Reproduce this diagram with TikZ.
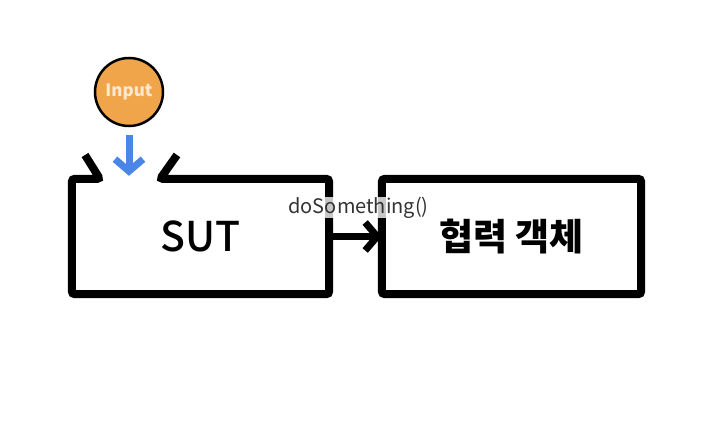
\documentclass[tikz,border=0pt]{standalone}
\usepackage{fontspec}
\setmainfont{Noto Sans CJK KR}
\newfontfamily\krmedium{Noto Sans CJK KR Medium}
\usetikzlibrary{arrows.meta}
\definecolor{inorange}{HTML}{F0A54A}
\definecolor{inblue}{HTML}{4A86E8}
\definecolor{intext}{HTML}{FCE8D0}
\tikzset{
  boxline/.style={line width=8pt,rounded corners=3pt},
  callarrow/.style={line width=7pt,-{Straight Barb[length=12pt,width=28pt]}},
  boxtext/.style={minimum width=257pt,minimum height=115pt,inner sep=0pt}
}
\begin{document}
\begin{tikzpicture}[x=1pt,y=-1pt]
    \useasboundingbox (0,0) rectangle (706,444);
    \node[circle,draw,line width=2.5pt,fill=inorange,minimum size=68pt,text=intext,font=\bfseries\fontsize{17}{17}\selectfont] (input) at (129,92) {Input};
    \node[boxtext,font=\krmedium\fontsize{41}{41}\selectfont] (sut) at (200.5,236.5) {SUT};
    \node[boxtext,minimum width=259pt,font=\bfseries\fontsize{37}{37}\selectfont] (collab) at (511.5,236.5) {협력 객체};
    \draw [boxline] (85,155) -- (100,179) -- (sut.north west) -- (sut.south west) -- (sut.south east) -- (sut.north east) -- (160,179) -- (177,155);
    \draw [boxline] (collab.north west) rectangle (collab.south east);
    \draw [callarrow,inblue,shorten <=8pt,shorten >=3pt] (input) -- (input |- sut.north) ;
    \draw [callarrow,shorten <=4pt] (sut.east) -- (collab.west) node[midway,xshift=3pt,yshift=29pt,fill=white,fill opacity=0.78,text opacity=1,text=black!80,inner sep=0pt,font=\fontsize{20}{20}\selectfont] (call) {doSomething()};
\end{tikzpicture}
\end{document}
